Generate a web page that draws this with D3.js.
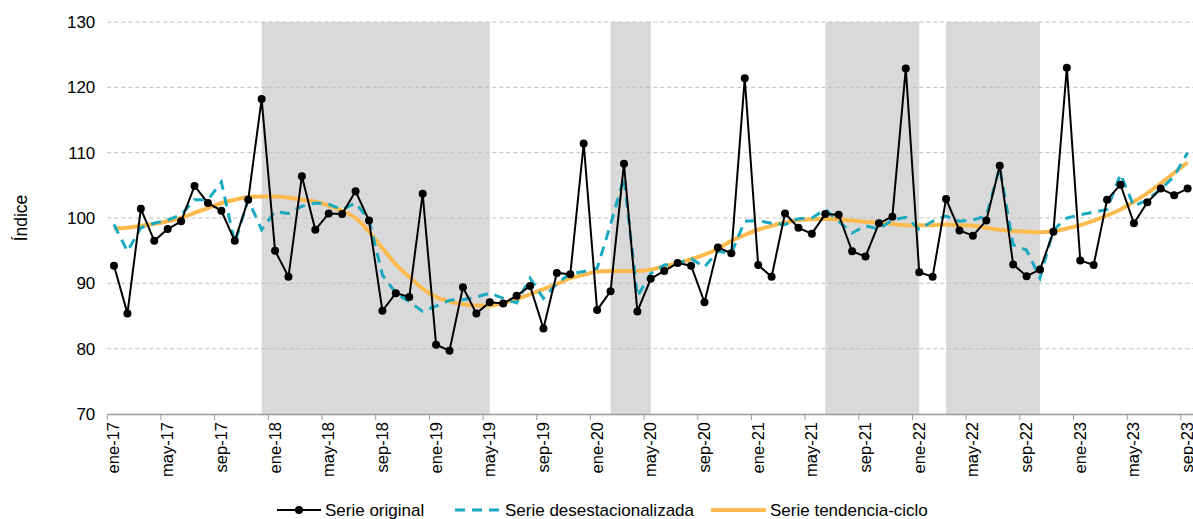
<!DOCTYPE html>
<html><head><meta charset="utf-8">
<script src="https://cdn.jsdelivr.net/npm/d3@7/dist/d3.min.js"></script>
<style>
body{margin:0;background:#fff;}
text{font-family:"Liberation Sans",Arial,sans-serif;fill:#000;}
</style></head>
<body><svg id="chart" width="1193" height="519"></svg>
<script>
const monthNames = ["ene","feb","mar","abr","may","jun","jul","ago","sep","oct","nov","dic"];
const years = ["17","18","19","20","21","22","23"];
const categories = [];
years.forEach(y => monthNames.forEach(m => categories.push(m + "-" + y)));
categories.splice(categories.indexOf("sep-23") + 1);

const original = [92.7,85.4,101.4,96.5,98.3,99.5,104.9,102.3,101.1,96.5,102.8,118.2,
95.0,91.0,106.4,98.2,100.7,100.6,104.1,99.6,85.8,88.5,87.9,103.7,
80.6,79.7,89.4,85.4,87.1,86.9,88.1,89.6,83.1,91.6,91.4,111.4,
85.9,88.8,108.3,85.7,90.7,91.9,93.1,92.7,87.1,95.5,94.6,121.4,
92.8,91.0,100.7,98.5,97.6,100.6,100.5,94.9,94.1,99.2,100.2,122.9,
91.7,91.0,102.9,98.1,97.3,99.6,108.0,92.9,91.1,92.1,97.9,123.0,
93.5,92.8,102.8,105.1,99.2,102.4,104.5,103.5,104.5];

const desestacionalizada = [99.0,94.9,98.5,99.2,99.7,100.5,102.8,102.8,105.5,96.2,102.8,98.2,
101.0,100.7,101.8,102.3,102.1,101.3,102.3,99.7,91.3,88.5,87.2,85.7,
86.5,87.4,87.5,87.9,88.5,87.7,87.0,90.8,87.7,90.0,91.5,91.8,
92.3,99.0,106.2,88.0,91.5,92.8,93.0,93.8,92.5,94.9,94.6,99.5,
99.6,99.2,99.0,99.9,100.0,101.3,99.5,97.7,98.8,98.3,99.7,100.1,
98.3,99.5,100.3,99.5,99.7,100.3,107.8,95.9,95.1,90.8,98.2,100.0,
100.5,100.9,101.3,106.7,101.8,102.8,104.4,106.4,110.0];

const tendencia = [98.4,98.5,98.8,99.1,99.5,100.0,100.8,101.5,102.3,102.8,103.2,103.3,
103.3,103.1,102.8,102.5,101.9,101.1,100.0,97.9,95.4,92.9,91.0,89.2,
87.9,87.2,86.8,86.6,86.6,87.0,87.6,88.3,89.1,89.9,90.8,91.3,
91.8,91.9,91.9,91.9,92.1,92.6,93.1,93.7,94.4,95.3,96.5,97.4,
98.2,98.8,99.3,99.7,99.8,99.9,99.8,99.6,99.4,99.3,99.1,98.9,
98.9,98.9,99.0,98.9,98.8,98.5,98.2,98.0,97.9,97.8,98.0,98.4,
98.9,99.6,100.4,101.3,102.5,103.8,105.3,106.9,108.5];

const shadedPeriods = [["dic-17","may-19"],["feb-20","may-20"],["jun-21","ene-22"],["mar-22","oct-22"]];
const yTicks = [70,80,90,100,110,120,130];
const xLabels = categories.filter((c,i) => i % 4 === 0);
const seriesNames = ["Serie original","Serie desestacionalizada","Serie tendencia-ciclo"];

(function(){
const svg = d3.select("#chart");
const FONT = '"Liberation Sans",Arial,sans-serif';
const pLeft = 107.3, pTop = 22, pBottom = 414;
const x = d3.scaleBand().domain(categories).range([pLeft, pLeft + 13.42 * categories.length]).padding(0);
const y = d3.scaleLinear().domain([70,130]).range([pBottom, pTop]);
const cx = c => x(c) + x.bandwidth() / 2;

// shading
svg.append("g").selectAll("rect").data(shadedPeriods).join("rect")
  .attr("x", d => cx(d[0])).attr("width", d => cx(d[1]) - cx(d[0]))
  .attr("y", pTop).attr("height", pBottom - pTop).attr("fill", "#d9d9d9");

// gridlines
svg.append("g").selectAll("line").data(yTicks.filter(t => t > 70)).join("line")
  .attr("x1", pLeft).attr("x2", 1193).attr("y1", d => y(d)).attr("y2", d => y(d))
  .attr("stroke", "#bfbfbf").attr("stroke-width", 1).attr("stroke-dasharray", "4,3");

// y axis
const yAxis = svg.append("g").attr("transform", `translate(${pLeft},0)`)
  .call(d3.axisLeft(y).tickValues(yTicks).tickSize(0).tickPadding(12));
yAxis.select(".domain").remove();
yAxis.selectAll("text").style("font-size", "17px").style("font-family", FONT);

svg.append("text").attr("transform", "translate(27,218) rotate(-90)")
  .attr("text-anchor", "middle").style("font-size", "17.5px").style("font-family", FONT).text("Índice");

// x axis
const xAxis = svg.append("g").attr("transform", `translate(0,${pBottom})`)
  .call(d3.axisBottom(x).tickValues(xLabels).tickSize(0).tickPadding(0));
xAxis.select(".domain").attr("stroke", "#999").attr("stroke-width", 1.5);
xAxis.selectAll("text")
  .attr("transform", "rotate(-90)").attr("text-anchor", "end")
  .attr("x", -8).attr("y", 0).attr("dy", "0.33em")
  .style("font-size", "16.5px").style("font-family", FONT);
svg.append("g").selectAll("line").data(xLabels).join("line")
  .attr("x1", d => x(d)).attr("x2", d => x(d)).attr("y1", pBottom).attr("y2", pBottom + 6)
  .attr("stroke", "#999").attr("stroke-width", 1);

// lines
const line = d3.line().x((d,i) => cx(categories[i])).y(d => y(d));
svg.append("path").datum(tendencia).attr("d", line.curve(d3.curveMonotoneX))
  .attr("fill", "none").attr("stroke", "#fdbb4f").attr("stroke-width", 4);
line.curve(d3.curveLinear);
svg.append("path").datum(desestacionalizada).attr("d", line)
  .attr("fill", "none").attr("stroke", "#19a9c0").attr("stroke-width", 3).attr("stroke-dasharray", "10,7");
svg.append("path").datum(original).attr("d", line)
  .attr("fill", "none").attr("stroke", "#000").attr("stroke-width", 2);
svg.append("g").selectAll("circle").data(original).join("circle")
  .attr("cx", (d,i) => cx(categories[i])).attr("cy", d => y(d)).attr("r", 4).attr("fill", "#000");

// legend
const lg = svg.append("g");
const ly = 510;
lg.append("line").attr("x1", 277).attr("x2", 321).attr("y1", ly).attr("y2", ly).attr("stroke", "#000").attr("stroke-width", 2);
lg.append("circle").attr("cx", 299).attr("cy", ly).attr("r", 4).attr("fill", "#000");
lg.append("text").attr("x", 325).attr("y", ly).attr("dy", "0.35em").style("font-size", "17px").style("font-family", FONT).text(seriesNames[0]);
lg.append("line").attr("x1", 455).attr("x2", 501).attr("y1", ly).attr("y2", ly).attr("stroke", "#19a9c0").attr("stroke-width", 3).attr("stroke-dasharray", "10,7");
lg.append("text").attr("x", 505).attr("y", ly).attr("dy", "0.35em").style("font-size", "17px").style("font-family", FONT).text(seriesNames[1]);
lg.append("line").attr("x1", 711).attr("x2", 766).attr("y1", ly).attr("y2", ly).attr("stroke", "#fdbb4f").attr("stroke-width", 4);
lg.append("text").attr("x", 770).attr("y", ly).attr("dy", "0.35em").style("font-size", "17px").style("font-family", FONT).text(seriesNames[2]);
})();
</script></body></html>
